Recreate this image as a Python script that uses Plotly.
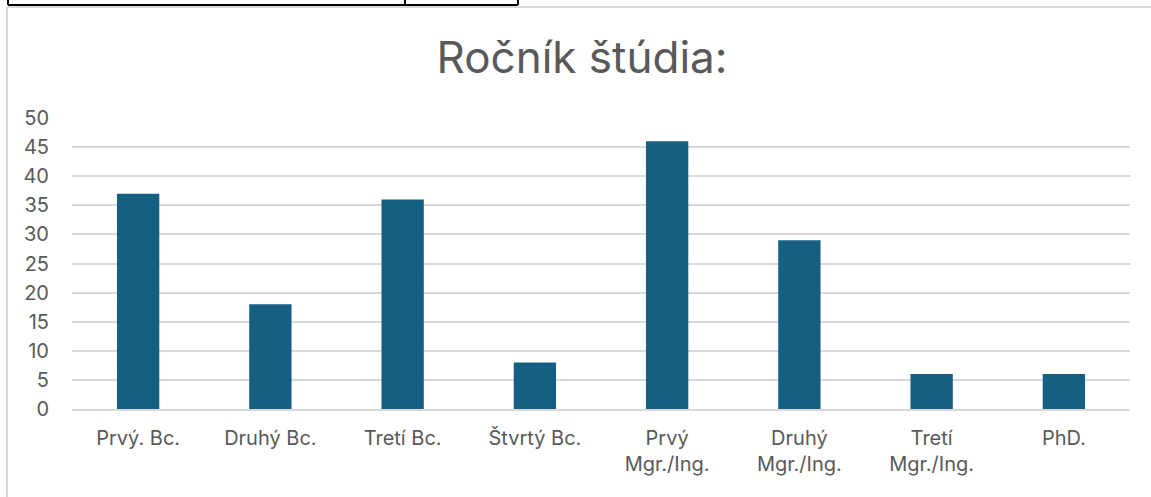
import plotly.graph_objects as go

categories = ["Prvý. Bc.", "Druhý Bc.", "Tretí Bc.", "Štvrtý Bc.",
              "Prvý<br>Mgr./Ing.", "Druhý<br>Mgr./Ing.", "Tretí<br>Mgr./Ing.", "PhD."]
values = [37, 18, 36, 8, 46, 29, 6, 6]
y_ticks = [0, 5, 10, 15, 20, 25, 30, 35, 40, 45, 50]

W, H = 1151, 497
L, R, T, B = 72, 21, 118, 88
PW, PH = W - L - R, H - T - B

def px(x):
    return (x - L) / PW

def py(y):
    return (H - B - y) / PH

fig = go.Figure(go.Bar(
    x=categories, y=values,
    marker=dict(color="#156082", line=dict(width=0)),
    hoverinfo="x+y",
))

font = "Inter, 'Liberation Sans', Arial, sans-serif"
grey = "#595959"

shapes = [
    # chart area border (light grey)
    dict(type="line", xref="paper", yref="paper", x0=px(7), x1=px(7), y0=py(7), y1=py(500),
         line=dict(color="#d9d9d9", width=2)),
    dict(type="line", xref="paper", yref="paper", x0=px(7), x1=px(1155), y0=py(7), y1=py(7),
         line=dict(color="#d9d9d9", width=2)),
    # black table edge at top
    dict(type="line", xref="paper", yref="paper", x0=px(8), x1=px(518), y0=py(5), y1=py(5),
         line=dict(color="black", width=2)),
    dict(type="line", xref="paper", yref="paper", x0=px(8), x1=px(8), y0=py(-2), y1=py(5),
         line=dict(color="black", width=2)),
    dict(type="line", xref="paper", yref="paper", x0=px(405), x1=px(405), y0=py(-2), y1=py(5),
         line=dict(color="black", width=2)),
    dict(type="line", xref="paper", yref="paper", x0=px(518), x1=px(518), y0=py(-2), y1=py(5),
         line=dict(color="black", width=2)),
]

fig.update_layout(
    width=W, height=H,
    margin=dict(l=L, r=R, t=T, b=B, pad=0),
    paper_bgcolor="white", plot_bgcolor="white",
    bargap=0.68,
    showlegend=False,
    title=dict(text="Ročník štúdia:", x=582 / W, xanchor="center", xref="container",
               y=1 - 58 / H, yanchor="middle", yref="container",
               font=dict(family=font, size=44, color=grey)),
    font=dict(family=font, size=20, color=grey),
    shapes=shapes,
    xaxis=dict(showgrid=False, showline=True, linecolor="#d9d9d9", linewidth=1.5,
               ticks="outside", ticklen=10, tickcolor="rgba(0,0,0,0)",
               tickfont=dict(family=font, size=20, color=grey), fixedrange=True),
    yaxis=dict(range=[0, 50], tickvals=y_ticks, showgrid=True, gridcolor="#d9d9d9", gridwidth=1.5,
               zeroline=False, showline=False,
               ticks="outside", ticklen=18, tickcolor="rgba(0,0,0,0)",
               tickfont=dict(family=font, size=20, color=grey), fixedrange=True),
)

fig.write_html("out.html", config={"displayModeBar": False},
               post_script="document.body.style.margin='0';document.body.style.overflow='hidden';")
